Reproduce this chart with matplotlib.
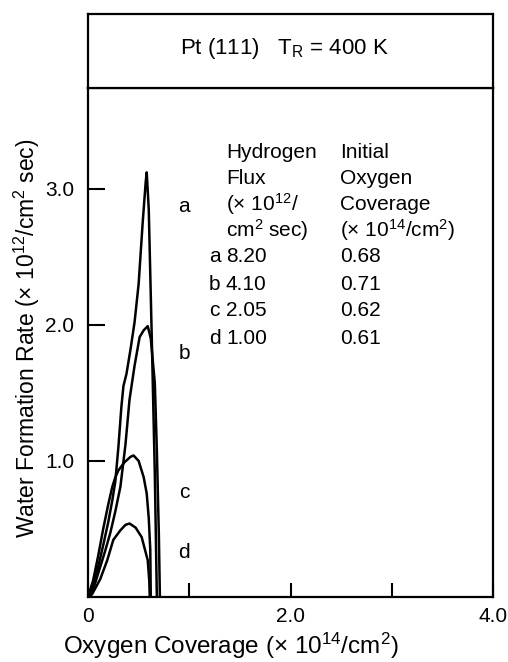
import matplotlib
matplotlib.use("Agg")
import matplotlib.pyplot as plt

plt.rcParams['font.family'] = ['Liberation Sans', 'DejaVu Sans']
plt.rcParams['mathtext.default'] = 'regular'

# ---------------- data ----------------
a_x = [0.0, 0.05, 0.10, 0.15, 0.20, 0.24, 0.27, 0.30, 0.33, 0.35, 0.38, 0.42, 0.46, 0.50, 0.54, 0.57, 0.58, 0.60, 0.63, 0.66, 0.68]
a_y = [0.0, 0.10, 0.22, 0.38, 0.55, 0.71, 0.85, 1.10, 1.40, 1.55, 1.64, 1.82, 2.02, 2.30, 2.75, 3.05, 3.12, 2.85, 1.90, 0.90, 0.0]

b_x = [0.0, 0.02, 0.07, 0.12, 0.17, 0.22, 0.27, 0.32, 0.37, 0.41, 0.46, 0.51, 0.55, 0.59, 0.62, 0.66, 0.68, 0.70, 0.71]
b_y = [0.0, 0.0, 0.10, 0.22, 0.34, 0.47, 0.63, 0.81, 1.12, 1.45, 1.70, 1.91, 1.96, 1.99, 1.90, 1.57, 1.08, 0.45, 0.0]

c_x = [0.0, 0.05, 0.10, 0.15, 0.20, 0.24, 0.27, 0.30, 0.36, 0.42, 0.45, 0.50, 0.55, 0.58, 0.60, 0.615, 0.62]
c_y = [0.0, 0.12, 0.30, 0.50, 0.68, 0.81, 0.88, 0.93, 0.99, 1.03, 1.04, 1.00, 0.88, 0.76, 0.58, 0.35, 0.0]

d_x = [0.0, 0.04, 0.12, 0.19, 0.25, 0.32, 0.37, 0.41, 0.47, 0.53, 0.59, 0.605, 0.61]
d_y = [0.0, 0.02, 0.13, 0.27, 0.42, 0.49, 0.53, 0.54, 0.51, 0.44, 0.27, 0.12, 0.0]

curve_names = ['a', 'b', 'c', 'd']
hydrogen_flux = ['8.20', '4.10', '2.05', '1.00']
initial_coverage = ['0.68', '0.71', '0.62', '0.61']

x_tick_values = [0.0, 1.0, 2.0, 3.0, 4.0]
x_tick_labels = ['0', '', '2.0', '', '4.0']
y_tick_values = [1.0, 2.0, 3.0]
y_tick_labels = ['1.0', '2.0', '3.0']

# ---------------- layout helpers (pixels) ----------------
W, H = 508, 662
def fx(px):
    return px / W
def fy(py):
    return 1 - py / H

fig = plt.figure(figsize=(W / 100, H / 100), dpi=100)
L, R, T, B, TT = 88, 493, 88, 597, 14
ax = fig.add_axes([fx(L), fy(B), fx(R) - fx(L), fy(T) - fy(B)])
tax = fig.add_axes([fx(L), fy(T), fx(R) - fx(L), fy(TT) - fy(T)])

for s in tax.spines.values():
    s.set_linewidth(1.6)
tax.set_xticks([])
tax.set_yticks([])
tax.text(0.484, 0.53, 'Pt (111)   T$_R$ = 400 K', ha='center', va='center',
         fontsize=16, transform=tax.transAxes)

for s in ax.spines.values():
    s.set_linewidth(1.6)

lw = 1.8
for xs, ys in [(a_x, a_y), (b_x, b_y), (c_x, c_y), (d_x, d_y)]:
    ax.plot(xs, ys, color='black', lw=lw, solid_joinstyle='round')

ax.set_xlim(0, 4.0)
ax.set_ylim(0, 3.74)
ax.set_xticks(x_tick_values)
ax.set_xticklabels(x_tick_labels)
ax.set_yticks(y_tick_values)
ax.set_yticklabels(y_tick_labels)
ax.tick_params(axis='x', direction='in', length=10, width=1.5, labelsize=15, pad=7)
ax.tick_params(axis='y', direction='in', length=12, width=1.5, labelsize=15, pad=10)

# curve labels
label_y = [2.87, 1.79, 0.77, 0.33]
for name, yy in zip(curve_names, label_y):
    ax.text(0.95, yy, name, ha='center', va='center', fontsize=15)

# legend table
fs = 15
c1, c2 = 226, 340
rows_y = [152, 178, 204, 230]
fig.text(fx(c1), fy(rows_y[0]), 'Hydrogen', ha='left', va='center', fontsize=fs)
fig.text(fx(c1), fy(rows_y[1]), 'Flux', ha='left', va='center', fontsize=fs)
fig.text(fx(c1), fy(rows_y[2]), '(× 10$^{12}$/', ha='left', va='center', fontsize=fs)
fig.text(fx(c1), fy(rows_y[3]), 'cm$^{2}$ sec)', ha='left', va='center', fontsize=fs)
fig.text(fx(c2), fy(rows_y[0]), 'Initial', ha='left', va='center', fontsize=fs)
fig.text(fx(c2), fy(rows_y[1]), 'Oxygen', ha='left', va='center', fontsize=fs)
fig.text(fx(c2), fy(rows_y[2]), 'Coverage', ha='left', va='center', fontsize=fs)
fig.text(fx(c2), fy(rows_y[3]), '(× 10$^{14}$/cm$^{2}$)', ha='left', va='center', fontsize=fs)
for i, (name, fl, cov) in enumerate(zip(curve_names, hydrogen_flux, initial_coverage)):
    yy = 257 + 27 * i
    fig.text(fx(c1 - 17), fy(yy), name, ha='left', va='center', fontsize=fs)
    fig.text(fx(c1), fy(yy), fl, ha='left', va='center', fontsize=fs)
    fig.text(fx(c2), fy(yy), cov, ha='left', va='center', fontsize=fs)

fig.text(fx(27), fy(338), 'Water Formation Rate (× 10$^{12}$/cm$^{2}$ sec)',
         rotation=90, ha='center', va='center', fontsize=16.5)
fig.text(fx(231), fy(646), 'Oxygen Coverage (× 10$^{14}$/cm$^{2}$)',
         ha='center', va='center', fontsize=17.5)

fig.savefig('out.png', dpi=100)
